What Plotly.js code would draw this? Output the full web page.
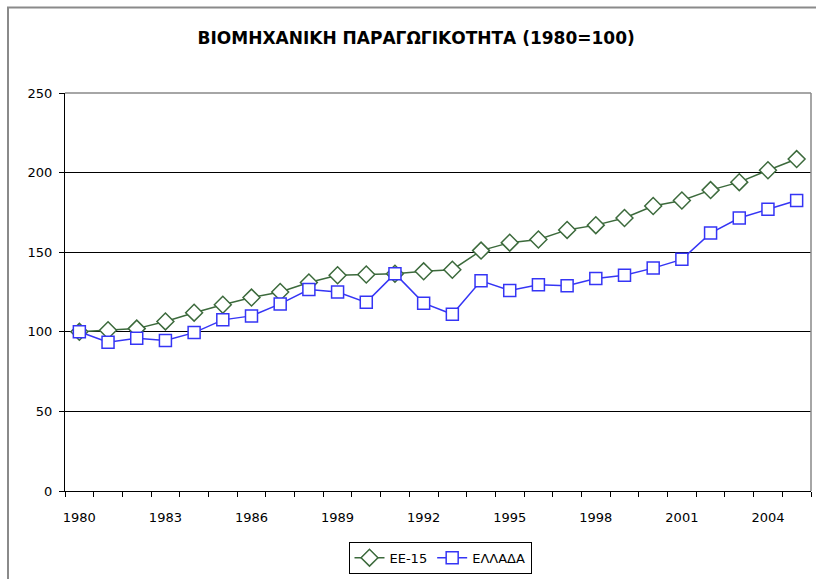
<!DOCTYPE html>
<html>
<head>
<meta charset="utf-8">
<script src="https://cdn.plot.ly/plotly-3.0.1.min.js"></script>
<style>html,body{margin:0;padding:0;background:#fff;}#chart{width:816px;height:579px;}</style>
</head>
<body>
<div id="chart"></div>
<script>
const years = [1980,1981,1982,1983,1984,1985,1986,1987,1988,1989,1990,1991,1992,1993,1994,1995,1996,1997,1998,1999,2000,2001,2002,2003,2004,2005];
const ee15 = [100,101,102,106.5,112,117,121.5,125,131,135.5,136,136.5,138,139,151,156,158,164,167,171.5,179,182.5,189,194,201.5,208.5];
const ellada = [100,93.5,96,94.5,99.5,107.5,110,117.5,126.5,125,118.5,136.5,118,111,132,126,129.5,129,133.5,135.5,140,145.5,162,171.5,177,182.5];
const xTickVals = [1980,1983,1986,1989,1992,1995,1998,2001,2004];
const yTickVals = [0,50,100,150,200,250];
const seriesNames = ['ΕΕ-15','ΕΛΛΑΔΑ'];
const titleText = 'ΒΙΟΜΗΧΑΝΙΚΗ ΠΑΡΑΓΩΓΙΚΟΤΗΤΑ (1980=100)';

const W = 746, H = 400; // plot area px
const fx = px => (px - 65) / W;
const fy = py => (493 - py) / H;

const traces = [
  {x: years, y: ee15, name: seriesNames[0], type: 'scatter', mode: 'lines+markers',
   line: {color: '#3c6a3c', width: 1.5},
   marker: {symbol: 'diamond', size: 13, color: '#ffffff', line: {color: '#3c6a3c', width: 1.5}}},
  {x: years, y: ellada, name: seriesNames[1], type: 'scatter', mode: 'lines+markers',
   line: {color: '#3535f5', width: 1.5},
   marker: {symbol: 'square', size: 12, color: '#ffffff', line: {color: '#3535f5', width: 1.5}}}
];

const layout = {
  width: 816, height: 579,
  margin: {l: 65, r: 5, t: 93, b: 86},
  paper_bgcolor: '#ffffff', plot_bgcolor: '#ffffff',
  font: {family: 'Tahoma, "DejaVu Sans", Verdana, sans-serif', size: 13, color: '#000'},
  title: {text: titleText, x: 0.51, xanchor: 'center', y: 1 - 38/579, yanchor: 'middle',
          font: {family: '"DejaVu Sans", Verdana, sans-serif', size: 17, color: '#000', weight: 'bold'}},
  showlegend: true,
  legend: {orientation: 'h', x: fx(440), xanchor: 'center', y: fy(544), yanchor: 'top',
           bordercolor: '#000', borderwidth: 1, bgcolor: '#fff',
           font: {size: 13, color: '#000'}, itemwidth: 30, tracegroupgap: 0},
  xaxis: {range: [1979.5, 2005.5], tickvals: xTickVals, ticktext: xTickVals.map(String),
          ticks: '', showgrid: false, zeroline: false, showline: true, linecolor: '#000', linewidth: 1,
          tickfont: {size: 13}, ticklabelstandoff: 14,
          minor: {tick0: 1979.5, dtick: 1, ticks: 'outside', ticklen: 5, tickcolor: '#000', showgrid: false}},
  yaxis: {range: [0, 250], tickvals: yTickVals, ticks: 'outside', ticklen: 5, tickcolor: '#000',
          showgrid: true, gridcolor: '#000', gridwidth: 1, zeroline: false,
          showline: true, linecolor: '#000', linewidth: 1, tickfont: {size: 13}, ticklabelstandoff: 4},
  shapes: [
    {type: 'line', xref: 'paper', yref: 'paper', x0: 0, x1: 1, y0: 1, y1: 1, line: {color: '#888', width: 1.5}},
    {type: 'line', xref: 'paper', yref: 'paper', x0: 1, x1: 1, y0: 0, y1: 1, line: {color: '#888', width: 1.5}},
    {type: 'rect', xref: 'paper', yref: 'paper', x0: fx(8), x1: fx(818), y0: fy(600), y1: fy(7),
     line: {color: '#8a8a8a', width: 2}, fillcolor: 'rgba(0,0,0,0)', layer: 'below'}
  ]
};

Plotly.newPlot('chart', traces, layout, {displayModeBar: false, staticPlot: true});
</script>
</body>
</html>
